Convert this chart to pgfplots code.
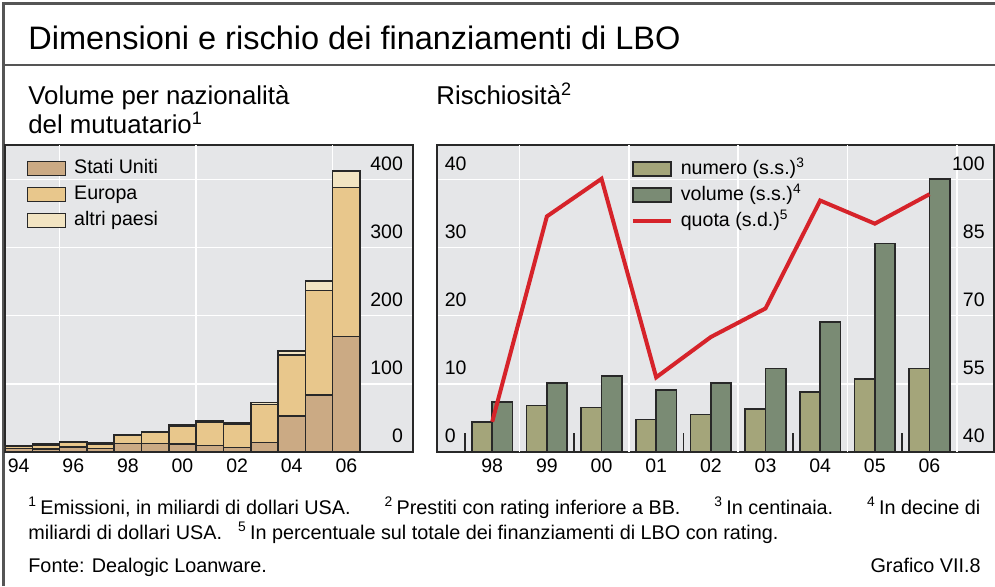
\documentclass[border=0pt]{standalone}
\usepackage{fontspec}
\setmainfont{Liberation Sans}
\usepackage{pgfplots}
\usepackage{pgfplotstable}
\pgfplotsset{compat=1.18}
\definecolor{bgc}{RGB}{229,230,232}
\definecolor{us}{RGB}{203,170,132}
\definecolor{eu}{RGB}{232,199,140}
\definecolor{oth}{RGB}{242,228,194}
\definecolor{num}{RGB}{164,165,122}
\definecolor{vol}{RGB}{122,139,116}
\definecolor{quota}{RGB}{214,35,42}
\definecolor{frame}{RGB}{85,85,85}
\definecolor{edge}{RGB}{40,40,40}

\pgfplotstableread{
x us eu oth
0 4.5 3.5 0.8
1 4.0 6.0 1.0
2 7.0 6.5 1.5
3 5.0 6.5 1.0
4 12.2 11.8 0.5
5 12.3 16.5 0.6
6 11.5 26.5 1.3
7 9.4 34.5 1.2
8 6.4 34.3 2.3
9 13.2 56.5 2.5
10 52.5 89.7 5.8
11 83.3 153.5 14.2
12 169.1 219.1 24.5
}\lbotab

\pgfplotstableread{
x num vol quota
0 4.4 7.3 46.6
1 6.8 10.1 91.9
2 6.5 11.1 100.2
3 4.7 9.1 56.4
4 5.5 10.1 65.3
5 6.3 12.2 71.6
6 8.8 19.1 95.4
7 10.7 30.6 90.3
8 12.2 40.1 96.8
}\risktab

\pgfplotsset{
  patchlegend/.style={legend image code/.code={\draw[##1,line width=0.75pt] (0pt,-3.5pt) rectangle (19pt,3.5pt); \path (23pt,0pt);}},
  linelegend/.style={legend image code/.code={\draw[##1] (0pt,0pt) -- (19pt,0pt); \path (23pt,0pt);}},
  common/.style={
    scale only axis, anchor=south west, height=153.35pt,
    axis background/.style={fill=bgc},
    axis line style={edge, line width=1pt},
    major tick length=0pt,
    tick label style={font=\fontsize{9.75pt}{11pt}\selectfont},
    /pgf/number format/assume math mode=true,
    grid style={white, line width=0.8pt},
    legend style={draw=none, fill=none, inner sep=0pt, outer sep=0pt,
      font=\fontsize{9.8pt}{11pt}\selectfont,
      nodes={inner sep=0pt, text height=7.5pt, text depth=2pt},
      cells={anchor=west}, row sep=3.5pt},
  },
}

\begin{document}
\begin{tikzpicture}
\useasboundingbox (0,0) rectangle (497.5pt,293pt);
% frame
\draw[frame, line width=1.5pt] (1.75pt,0pt) -- (1.75pt,291.25pt) -- (497.5pt,291.25pt);
\draw[frame, line width=1pt] (1.75pt,260.5pt) -- (497.5pt,260.5pt);
% titles
\node[anchor=base west, inner sep=0pt, font=\fontsize{16.25pt}{19pt}\selectfont] at (14pt,268.5pt) {Dimensioni e rischio dei finanziamenti di LBO};
\node[anchor=base west, inner sep=0pt, font=\fontsize{12.9pt}{15pt}\selectfont] at (14pt,241pt) {Volume per nazionalità};
\node[anchor=base west, inner sep=0pt, font=\fontsize{12.9pt}{15pt}\selectfont] at (14pt,226.5pt) {del mutuatario\textsuperscript{1}};
\node[anchor=base west, inner sep=0pt, font=\fontsize{12.9pt}{15pt}\selectfont] at (218pt,241pt) {Rischiosità\textsuperscript{2}};

% left chart
\begin{axis}[common,
  at={(2.5pt,67.15pt)}, width=203.85pt,
  xmin=-0.5, xmax=14.43, ymin=0, ymax=451,
  ybar stacked, bar width=1,
  xtick={0,2,...,12}, xticklabels={94,96,98,00,02,04,06},
  ytick={0,100,...,400}, ymajorgrids,
  extra x ticks={1.5,6.5,11.5}, extra x tick labels={},
  extra x tick style={grid=major},
  yticklabel pos=right,
  yticklabel style={anchor=south east, inner sep=0pt, xshift=-4.7pt, yshift=4.3pt},
  legend style={at={(rel axis cs:0.0532,0.955)}, anchor=north west},
]
\addplot[fill=us, draw=edge, line width=0.75pt, patchlegend] table[x=x, y=us] {\lbotab};
\addlegendentry{Stati Uniti}
\addplot[fill=eu, draw=edge, line width=0.75pt, patchlegend] table[x=x, y=eu] {\lbotab};
\addlegendentry{Europa}
\addplot[fill=oth, draw=edge, line width=0.75pt, patchlegend] table[x=x, y=oth] {\lbotab};
\addlegendentry{altri paesi}
\end{axis}

% right chart, left scale
\begin{axis}[common,
  at={(218.5pt,67.15pt)}, width=278.5pt,
  xmin=-1.01, xmax=9.18, ymin=0, ymax=45.1,
  ybar, bar width=0.372,
  xtick={0,...,8}, xticklabels={98,99,00,01,02,03,04,05,06},
  minor xtick={-0.5,0.5,...,8.5}, minor tick length=9.5pt,
  minor tick style={edge, line width=0.8pt},
  xtick pos=left, tick align=inside,
  ytick={0,10,...,40}, ymajorgrids,
  extra x ticks={0.5,2.5,4.5,6.5,8.5}, extra x tick labels={},
  extra x tick style={grid=major},
  yticklabel style={anchor=south west, inner sep=0pt, xshift=3.75pt, yshift=4.3pt},
  legend style={at={(rel axis cs:0.348,0.953)}, anchor=north west},
]
\addplot[fill=num, draw=edge, line width=0.75pt, bar shift=-0.186, patchlegend] table[x=x, y=num] {\risktab};
\addlegendentry{numero (s.s.)\textsuperscript{3}}
\addplot[fill=vol, draw=edge, line width=0.75pt, bar shift=0.186, patchlegend] table[x=x, y=vol] {\risktab};
\addlegendentry{volume (s.s.)\textsuperscript{4}}
\addlegendimage{quota, line width=2pt, linelegend}
\addlegendentry{quota (s.d.)\textsuperscript{5}}
\end{axis}

% right chart, right scale
\begin{axis}[common,
  at={(218.5pt,67.15pt)}, width=278.5pt,
  axis background/.style={},
  axis line style={draw=none},
  xmin=-1.01, xmax=9.18, ymin=40, ymax=107.65,
  xtick=\empty,
  ytick={40,55,...,100},
  yticklabel pos=right,
  yticklabel style={anchor=south east, inner sep=0pt, xshift=-4.5pt, yshift=4.3pt},
]
\addplot[quota, line width=2pt, mark=none] table[x=x, y=quota] {\risktab};
\end{axis}

% footnotes
\node[anchor=base west, inner sep=0pt, font=\fontsize{9.9pt}{12pt}\selectfont] at (14pt,36pt)
 {\makebox[476pt][l]{\textsuperscript{1}\,Emissioni, in miliardi di dollari USA.\hfill\textsuperscript{2}\,Prestiti con rating inferiore a BB.\hfill\textsuperscript{3}\,In centinaia.\hfill\textsuperscript{4}\,In decine di}};
\node[anchor=base west, inner sep=0pt, font=\fontsize{9.9pt}{12pt}\selectfont] at (14pt,23.5pt)
 {miliardi di dollari USA.\hspace{8pt}\textsuperscript{5}\,In percentuale sul totale dei finanziamenti di LBO con rating.};
\node[anchor=base west, inner sep=0pt, font=\fontsize{9.9pt}{12pt}\selectfont] at (14pt,7pt) {Fonte: Dealogic Loanware.};
\node[anchor=base east, inner sep=0pt, font=\fontsize{9.9pt}{12pt}\selectfont] at (490.5pt,7pt) {Grafico VII.8};
\end{tikzpicture}
\end{document}
